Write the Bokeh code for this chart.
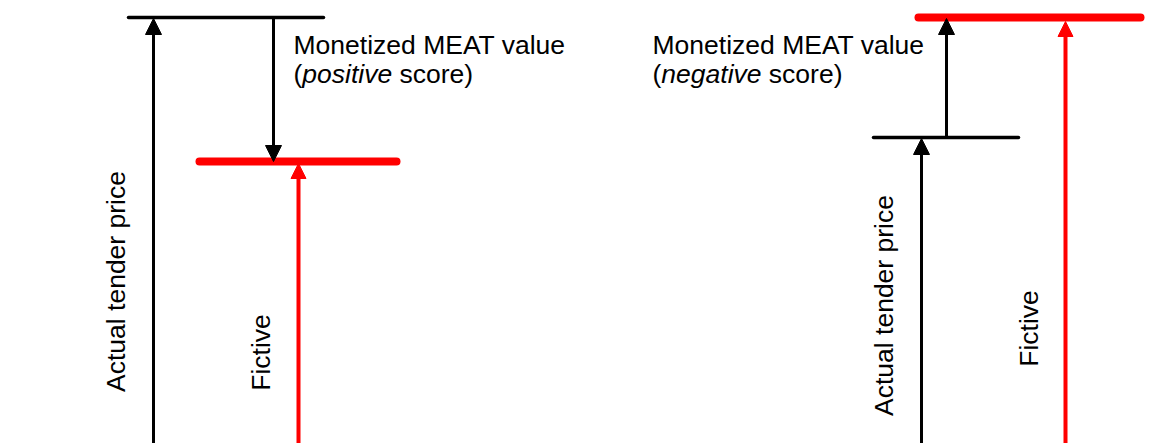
import math
from bokeh.plotting import figure
from bokeh.models import Range1d, Arrow, NormalHead, ColumnDataSource
from bokeh.core.properties import value
from bokeh.embed import file_html
from bokeh.resources import INLINE

# ---- data (heights measured from the bottom of the picture, in px-like units)
scores = ["positive", "negative"]
actual_price = [426, 306]          # level of the actual tender price
fictive_price = [282, 426]         # level of the fictive price
label_actual = ["Actual tender price", "Actual tender price"]
label_fictive = ["Fictive", "Fictive"]
label_meat = ["Monetized MEAT value", "Monetized MEAT value"]

# ---- layout (positions only)
x_actual_arrow = [153, 921]
x_fictive_arrow = [298, 1065]
x_meat_arrow = [273, 946]
actual_bar = [(128, 323), (873, 1018)]
fictive_bar = [(199, 396), (918, 1140)]
x_text = [293, 652]
y_text1 = 399
y_text2 = 370
x_lab_actual = [115, 883]
y_lab_actual = [162, 138]
x_lab_fictive = [260, 1028]
y_lab_fictive = [91, 115]

FONT = value("Liberation Sans")
FS = "26.5px"
EM = 26.5
W = {"(": 0.333, " ": 0.278, "p": 0.556, "o": 0.556, "s": 0.5, "i": 0.222,
     "t": 0.278, "v": 0.5, "e": 0.556, "n": 0.556, "g": 0.556, "a": 0.556}


def width(s):
    return sum(W[c] for c in s) * EM


p = figure(width=1152, height=443, x_range=Range1d(0, 1152), y_range=Range1d(0, 443),
           output_backend="svg", toolbar_location=None, min_border=0,
           x_axis_type=None, y_axis_type=None)
p.grid.visible = False
p.outline_line_color = None
p.background_fill_color = "white"
p.border_fill_color = "white"

# horizontal level lines
p.segment(x0=[b[0] for b in actual_bar], x1=[b[1] for b in actual_bar],
          y0=actual_price, y1=actual_price, line_color="black", line_width=3.5,
          line_cap="round")
p.segment(x0=[b[0] for b in fictive_bar], x1=[b[1] for b in fictive_bar],
          y0=fictive_price, y1=fictive_price, line_color="#ff0000", line_width=8,
          line_cap="round")

# black arrows from bottom to actual price
src_a = ColumnDataSource(dict(xs=x_actual_arrow, ys=[-5, -5], xe=x_actual_arrow,
                              ye=[v - 1 for v in actual_price]))
p.add_layout(Arrow(source=src_a, x_start="xs", y_start="ys", x_end="xe", y_end="ye",
                   line_color="black", line_width=3,
                   end=NormalHead(size=16, fill_color="black", line_color="black", line_width=1)))

# red arrows from bottom to fictive price
src_f = ColumnDataSource(dict(xs=x_fictive_arrow, ys=[-5, -5], xe=x_fictive_arrow,
                              ye=[fictive_price[0] - 2, fictive_price[1] - 4]))
p.add_layout(Arrow(source=src_f, x_start="xs", y_start="ys", x_end="xe", y_end="ye",
                   line_color="#ff0000", line_width=4,
                   end=NormalHead(size=15, fill_color="#ff0000", line_color="#ff0000", line_width=1)))

# MEAT arrows from actual price to fictive price
src_m = ColumnDataSource(dict(xs=x_meat_arrow, ys=actual_price, xe=x_meat_arrow,
                              ye=[fictive_price[0], fictive_price[1] - 1]))
p.add_layout(Arrow(source=src_m, x_start="xs", y_start="ys", x_end="xe", y_end="ye",
                   line_color="black", line_width=3,
                   end=NormalHead(size=16, fill_color="black", line_color="black", line_width=1)))

# texts
p.text(x=x_text, y=[y_text1, y_text1], text=label_meat, text_font=FONT,
       text_font_size=FS, text_color="black", text_baseline="alphabetic", text_align="left")
p.text(x=x_text, y=[y_text2, y_text2], text=["(", "("], text_font=FONT,
       text_font_size=FS, text_color="black", text_baseline="alphabetic", text_align="left")
p.text(x=[x + width("(") for x in x_text], y=[y_text2, y_text2], text=scores,
       text_font=FONT, text_font_size=FS, text_font_style="italic", text_color="black",
       text_baseline="alphabetic", text_align="left")
p.text(x=[x + width("(") + width(s) + width(" ") for x, s in zip(x_text, scores)],
       y=[y_text2, y_text2], text=["score)", "score)"], text_font=FONT,
       text_font_size=FS, text_color="black", text_baseline="alphabetic", text_align="left")

p.text(x=x_lab_actual, y=y_lab_actual, text=label_actual, angle=math.pi / 2,
       text_font=FONT, text_font_size=FS, text_color="black",
       text_baseline="alphabetic", text_align="center")
p.text(x=x_lab_fictive, y=y_lab_fictive, text=label_fictive, angle=math.pi / 2,
       text_font=FONT, text_font_size=FS, text_color="black",
       text_baseline="alphabetic", text_align="center")

open("out.html", "w").write(file_html(p, INLINE))
